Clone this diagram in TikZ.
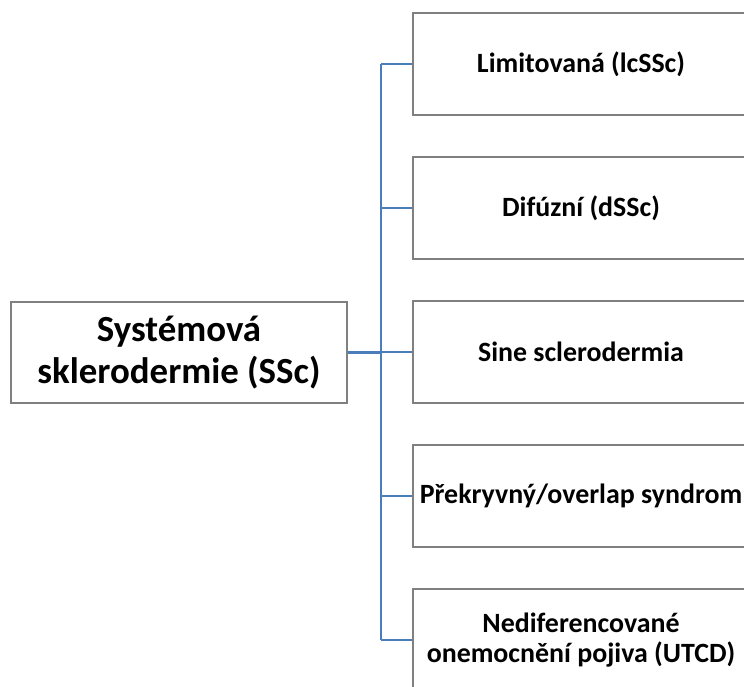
\documentclass[tikz,border=0pt]{standalone}
\usepackage{fontspec}
\setmainfont{Carlito}
\definecolor{linkblue}{HTML}{4A7EBB}
\definecolor{boxgray}{HTML}{808080}
\tikzset{
  rootbox/.style={draw=boxgray, line width=1.2bp, fill=white, minimum width=336bp, minimum height=101bp, inner sep=2bp, align=center, font=\fontsize{37}{42}\selectfont\bfseries},
  childbox/.style={draw=boxgray, line width=1.2bp, fill=white, minimum width=336bp, minimum height=102bp, inner sep=1bp, align=center, font=\fontsize{28}{30}\selectfont\bfseries},
  link/.style={draw=linkblue, line width=2.8bp}
}
\begin{document}
\begin{tikzpicture}[x=1bp, y=-1bp]
\clip (0,0) rectangle (744,687);
\fill[white] (0,0) rectangle (744,687);
\node[rootbox] (root) at (179,352.5) {Systémová\\sklerodermie (SSc)};
\node[childbox] (c1) at (581,64) {Limitovaná (lcSSc)};
\node[childbox] (c2) at (581,208) {Difúzní (dSSc)};
\node[childbox] (c3) at (581,352) {Sine sclerodermia};
\node[childbox] (c4) at (581,496) {Překryvný/overlap syndrom};
\node[childbox] (c5) at (581,640) {Nediferencované\\onemocnění pojiva (UTCD)};
\coordinate (ttop) at (381,64);
\coordinate (tbot) at (381,640);
\draw[link] (ttop) -- (tbot);
\draw[link] (root.east) -- (root.east -| ttop);
\foreach \c in {c1,c2,c3,c4,c5} {
  \draw[link] (\c.west) -- (\c.west -| ttop);
}
\end{tikzpicture}
\end{document}
